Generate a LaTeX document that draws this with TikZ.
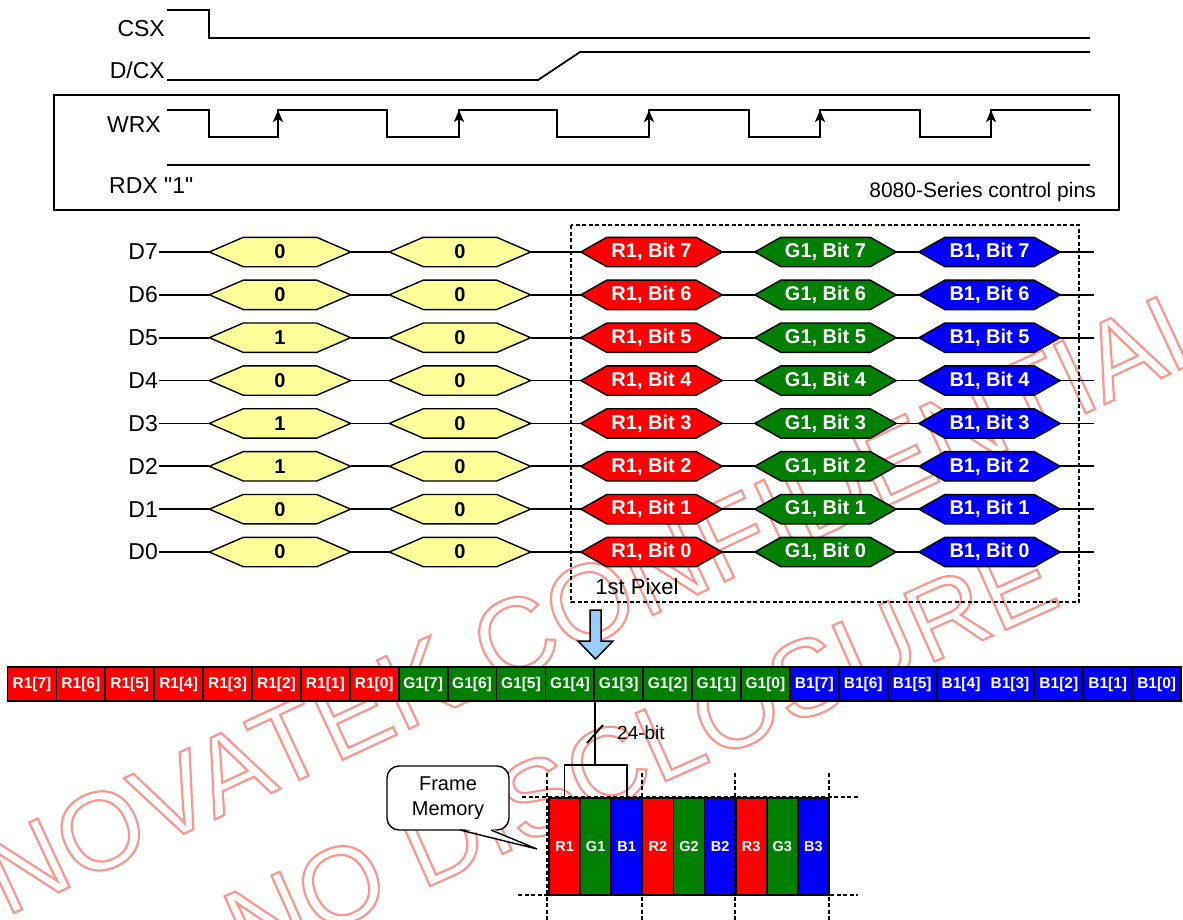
\documentclass[tikz,border=0pt]{standalone}
\usepackage{fontspec}
\setmainfont{Liberation Sans}[Ligatures=TeXOff]
\usetikzlibrary{arrows.meta,backgrounds}
\definecolor{dred}{RGB}{255,0,0}
\definecolor{dgreen}{RGB}{0,128,0}
\definecolor{dblue}{RGB}{0,0,255}
\definecolor{dyellow}{RGB}{255,255,153}
\definecolor{arrowblue}{RGB}{153,204,255}
\definecolor{wmred}{RGB}{252,150,140}
\pgfdeclarelayer{wm}
\pgfdeclarelayer{bg}
\pgfsetlayers{wm,bg,main}
\tikzset{
  lbl/.style={font=\fontsize{23}{27}\selectfont, inner sep=1pt},
  wave/.style={line width=1.8pt},
  hexnode/.style={rectangle, minimum width=141pt, minimum height=29pt, inner sep=0pt, font=\bfseries\fontsize{20}{24}\selectfont},
  bitcell/.style={draw=black, line width=1.8pt, minimum width=48.9pt, minimum height=34pt, inner sep=0pt, text=white, font=\bfseries\fontsize{15.5}{18}\selectfont},
  memcell/.style={draw=black, line width=1.8pt, minimum width=31.1pt, minimum height=97pt, inner sep=0pt, text=white, font=\bfseries\fontsize{14.5}{17}\selectfont},
  dotline/.style={dash pattern=on 4pt off 2.5pt, line width=2.8pt},
  wmtext/.style={inner sep=0pt, text=wmred}
}
\newcommand\outlinetext[1]{\special{pdf:literal direct 1 Tr 2.2 w}#1\special{pdf:literal direct 0 Tr}}
\newcommand\hexshape[3]{%
  \filldraw[fill=#3, draw=black, line width=1.4pt, line join=miter] (#1.west) -- ([xshift=#2]#1.north west) -- ([xshift=-#2]#1.north east) -- (#1.east) -- ([xshift=-#2]#1.south east) -- ([xshift=#2]#1.south west) -- cycle;}
\begin{document}
\begin{tikzpicture}[x=1pt,y=-1pt]
\useasboundingbox (0,0) rectangle (1183,920);
% watermark
\begin{pgfonlayer}{wm}
\node[wmtext, rotate=25, font=\fontsize{110}{115}\selectfont] (wm1) at (600,598) {\outlinetext{NOVATEK CONFIDENTIAL}};
\node[wmtext, rotate=24, font=\fontsize{108}{115}\selectfont] (wm2) at (640,752) {\outlinetext{NO DISCLOSURE}};
\end{pgfonlayer}
% control signals
\node[lbl, anchor=east] (csx) at (166,29) {CSX};
\draw[wave] (167,10) -- (209,10) -- (209,38) -- (1090,38);
\node[lbl, anchor=east] (dcx) at (166,70) {D/CX};
\draw[wave] (167,80) -- (538,80) -- (580,52) -- (1090,52);
\draw[line width=1.4pt] (54,95) rectangle (1119,210);
\node[lbl, anchor=east] (wrx) at (162,125) {WRX};
\draw[wave] (167,110) -- (209,110) -- (209,137) -- (278,137) -- (278,110) -- (387,110) -- (387,137) -- (459,137) -- (459,110) -- (557,110) -- (557,137) -- (649,137) -- (649,110) -- (749,110) -- (749,137) -- (820,137) -- (820,110) -- (920,110) -- (920,137) -- (991,137) -- (991,110) -- (1091,110);
\foreach \x in {278,459,649,820,991} \draw[wave, -{Stealth[length=12pt,width=10pt,inset=3pt]}] (\x,132) -- (\x,110);
\draw[wave] (167,165) -- (1090,165);
\node[lbl, anchor=west] (rdx) at (108,186) {RDX "1"};
\node[font=\fontsize{21}{25}\selectfont, anchor=east, inner sep=0pt] (ctl) at (1096,192) {8080-Series control pins};
% data rows
\foreach \i/\a/\b [count=\k from 0] in {7/0/0,6/0/0,5/1/0,4/0/0,3/1/0,2/1/0,1/0/0,0/0/0}{
  \pgfmathsetmacro\yy{252+42.86*\k}
  \node[lbl, anchor=east] (D\i) at (159,\yy) {D\i};
  \node[hexnode] (Y\i) at (280,\yy) {\a};
  \node[hexnode] (Z\i) at (460,\yy) {\b};
  \node[hexnode, text=white] (R\i) at (651.5,\yy) {R1, Bit \i};
  \node[hexnode, text=white] (G\i) at (825.5,\yy) {G1, Bit \i};
  \node[hexnode, text=white] (B\i) at (989.5,\yy) {B1, Bit \i};
  \coordinate (E\i) at (1094,\yy);
  \begin{pgfonlayer}{bg}
    \hexshape{Y\i}{34pt}{dyellow}
    \hexshape{Z\i}{34pt}{dyellow}
    \hexshape{R\i}{26pt}{dred}
    \hexshape{G\i}{26pt}{dgreen}
    \hexshape{B\i}{26pt}{dblue}
  \end{pgfonlayer}
  \draw[wave] (D\i.east) -- (Y\i.west);
  \draw[wave] (Y\i.east) -- (Z\i.west);
  \draw[wave] (Z\i.east) -- (R\i.west);
  \draw[wave] (R\i.east) -- (G\i.west);
  \draw[wave] (G\i.east) -- (B\i.west);
  \draw[wave] (B\i.east) -- (E\i);
}
% first pixel box
\draw[dotline] (571,225) rectangle (1079,602);
\node[font=\fontsize{22}{26}\selectfont, inner sep=0pt] (pix) at (637,587) {1st Pixel};
% arrow
\filldraw[fill=arrowblue, line width=1.5pt, line join=miter] (590,610) -- (601,610) -- (601,641) -- (613,641) -- (595.5,659) -- (578,641) -- (590,641) -- cycle;
% bit row
\foreach \c/\col/\off in {R/dred/0,G/dgreen/8,B/dblue/16}{
  \foreach \b [count=\n from 0] in {7,6,5,4,3,2,1,0}{
    \node[bitcell, fill=\col] (c\c\b) at ({7.5+24.45+48.9*(\off+\n)},684) {\c1[\b]};
  }
}
% memory
\foreach \c/\col [count=\n from 0] in {R1/dred,G1/dgreen,B1/dblue,R2/dred,G2/dgreen,B2/dblue,R3/dred,G3/dgreen,B3/dblue}{
  \node[memcell, fill=\col] (m\c) at ({549+15.55+31.1*\n},846.5) {\c};
}
\draw[dotline] (547,773) -- (547,920);
\draw[dotline] (642,773) -- (642,920);
\draw[dotline] (735,773) -- (735,920);
\draw[dotline] (829,773) -- (829,920);
\draw[dotline] (522,797) -- (858,797);
\draw[dotline] (518,895) -- (858,895);
% bus
\coordinate (busTop) at (cG4.south east);
\coordinate (busBot) at (cG4.south east |- 0,765);
\draw[wave] (busTop) -- (busBot);
\draw[wave] (mR1.north) -- (mR1.north |- busBot) -- (mB1.north |- busBot) -- (mB1.north);
\draw[wave] (587,743) -- (603,725);
\node[font=\fontsize{19}{23}\selectfont, anchor=west, inner sep=0pt] (bus) at (617,733) {24-bit};
% callout
\node[draw, fill=white, line width=1.4pt, rounded corners=12pt, minimum width=122pt, minimum height=64pt, align=center, inner sep=0pt, font=\fontsize{20}{25}\selectfont] (fm) at (448,798) {Frame\\Memory};
\coordinate (tip) at (537,849);
\fill[white] (461,828) -- (490,828) -- (tip) -- cycle;
\draw[line width=1.4pt, line join=miter] (460,830) -- (tip) -- (491,830);
\end{tikzpicture}
\end{document}
